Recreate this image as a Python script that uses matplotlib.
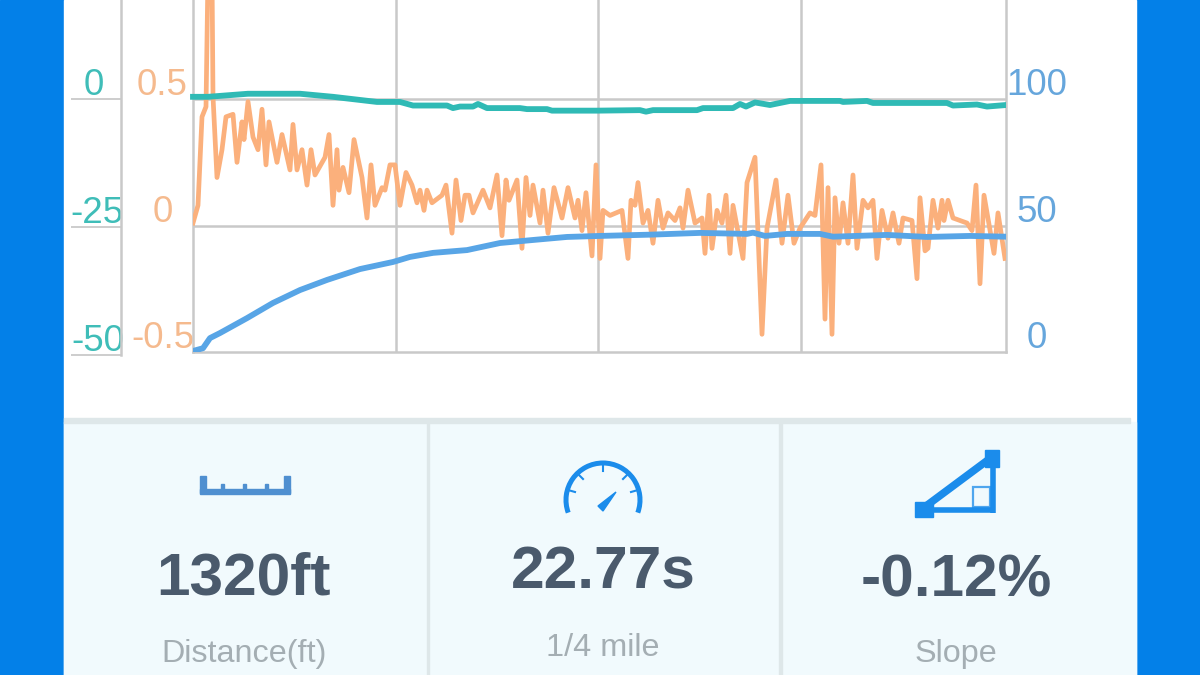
"""
Quarter mile run chart with the stats panel below it
"""
import matplotlib
matplotlib.use('Agg')
import matplotlib.pyplot as plt
from matplotlib.patches import Arc, Polygon, Rectangle
from matplotlib.transforms import ScaledTranslation

plt.rcParams['font.family'] = ['Liberation Sans', 'DejaVu Sans']

# Chart data
accel_x = [0, 5, 9, 13, 15, 19, 20, 24, 29, 33, 40, 44, 49, 51, 55, 60, 65, 69, 73, 76, 84, 89, 97, 100, 104,
           109, 114, 118, 122, 132, 136, 140, 144, 146, 150, 156, 161, 169, 174, 178, 182, 189, 192, 197, 202,
           207, 213, 219, 224, 227, 231, 234, 239, 249, 253, 259, 263, 268, 272, 276, 280, 290, 297, 304, 309,
           313, 316, 324, 329, 333, 337, 340, 347, 350, 355, 361, 369, 375, 382, 385, 389, 393, 399, 403, 407,
           410, 417, 429, 435, 438, 442, 445, 450, 455, 460, 465, 470, 475, 482, 487, 490, 495, 502, 509, 512,
           516, 519, 524, 529, 533, 537, 540, 550, 554, 562, 569, 574, 583, 589, 595, 601, 607, 617, 622, 628,
           632, 635, 639, 642, 646, 650, 655, 660, 664, 670, 675, 680, 684, 689, 695, 700, 706, 710, 719, 724,
           727, 732, 735, 740, 745, 749, 751, 755, 760, 774, 779, 783, 787, 791, 801, 805, 812]
accel = [.01, .08, .43, .47, 1.0, 1.0, .51, .19, .30, .43, .44, .25, .41, .34, .49, .35, .30, .46, .24, .41, .25,
         .36, .22, .40, .22, .30, .16, .30, .20, .27, .36, .08, .30, .14, .23, .13, .34, .19, .03, .24, .08, .15,
         .14, .24, .24, .08, .21, .16, .09, .14, .06, .14, .09, .12, .16, -.03, .18, .02, .12, .12, .05, .14, .07,
         .20, -.04, .18, .10, .18, -.09, .19, .04, .16, .01, .14, -.03, .15, .03, .15, .03, .10, -.02, .13, -.12,
         .24, -.13, .06, .04, .06, -.13, .10, .08, .17, .01, .06, -.07, .10, -.01, .05, .02, .07, -.01, .14, .01,
         .03, -.11, .12, -.09, .06, .01, .12, -.11, .08, -.13, .17, .27, -.43, -.01, .18, -.07, .12, -.07, -.01,
         .05, .04, .24, -.37, .15, -.43, .11, -.07, .09, -.07, .20, -.09, .10, .07, .10, -.13, .06, -.05, .05,
         -.07, .03, .02, -.21, .11, -.10, -.09, .10, -.01, .10, .02, .10, .03, .01, -.02, .16, -.23, .12, -.11,
         .05, -.13]

speed_x = [0, 10, 17, 27, 54, 80, 107, 134, 167, 200, 217, 240, 274, 307, 340, 374, 407, 457, 507, 554,
           560, 572, 594, 627, 640, 694, 734, 777, 813]
speed = [.4, 1.5, 5.5, 7.5, 13.4, 19.4, 24.5, 28.5, 32.8, 35.6, 37.6, 39.2, 40.3, 43.1, 44.3, 45.5, 45.9, 46.4,
         47.1, 46.7, 47.2, 45.9, 46.7, 46.7, 45.6, 46.3, 45.5, 45.9, 45.6]

slope_x = [0, 15, 55, 107, 140, 184, 207, 220, 254, 260, 267, 280, 285, 294, 327, 334, 354, 359, 404, 447, 453,
           460, 504, 510, 540, 547, 553, 562, 577, 597, 647, 650, 674, 680, 754, 760, 784, 794, 813]
slope = [.4, .4, 1, 1, .4, -.6, -.6, -1.3, -1.3, -1.8, -1.5, -1.5, -1, -1.8, -1.8, -2, -2, -2.3, -2.3, -2.2,
         -2.5, -2.2, -2.2, -1.8, -1.8, -1, -1.5, -.7, -1.2, -.4, -.4, -.6, -.4, -.8, -.8, -1.3, -1.1, -1.5, -1.2]

grid_x = [203, 405, 608]
accel_ticks = [-0.5, 0, 0.5]
accel_tick_labels = ['-0.5', '0', '0.5']
speed_ticks = [0, 50, 100]
slope_ticks = [-50, -25, 0]

# Stats panel
stat_values = ['1320ft', '22.77s', '-0.12%']
stat_names = ['Distance(ft)', '1/4 mile', 'Slope']

BLUE_BG = '#0380E8'
GRID = '#C9C9C9'
ACCEL_COLOR = '#FBB07C'
SPEED_COLOR = '#58A5E6'
SLOPE_COLOR = '#2FBAB5'
ICON_COLOR = '#1B8CEB'


def px_rect(x0, y0, x1, y1):
    """Figure fractions for a box given in pixels from the top left"""
    return [x0 / 1200, 1 - y1 / 675, (x1 - x0) / 1200, (y1 - y0) / 675]


def nudge_labels(fig, labels, dx=0, dy=0):
    """Move tick labels by a few pixels (y grows upward)"""
    offset = ScaledTranslation(dx / 100, dy / 100, fig.dpi_scale_trans)
    for label in labels:
        label.set_transform(label.get_transform() + offset)


def draw_background(bg):
    bg.add_patch(Rectangle((0, 0), 1200, 675, color=BLUE_BG))
    bg.add_patch(Rectangle((64, 0), 1072, 675, color='white'))
    bg.add_patch(Rectangle((64, 422), 1072, 253, color='#F1FAFD'))
    bg.add_patch(Rectangle((64, 418), 1066, 5, color='#DEE7E9'))
    for x in [426.5, 779]:
        bg.add_patch(Rectangle((x, 420), 2.5, 255, color='#DEE7E9'))


def draw_icons(bg):
    # ruler
    ruler = '#4F8FD0'
    bg.add_patch(Rectangle((200, 489), 90, 4.5, color=ruler))
    for x, top in [(200, 476), (221, 484), (243, 484), (265, 484), (284, 476)]:
        width = 6 if top == 476 else 3
        bg.add_patch(Rectangle((x, top), width, 493 - top, color=ruler))

    # gauge
    bg.add_patch(Arc((603, 500), 74, 74, theta1=160, theta2=380, color=ICON_COLOR, lw=3.6))
    for x0, y0, x1, y1 in [(603, 464, 603, 471), (578, 474, 583, 479), (628, 474, 623, 479),
                           (568, 490, 575, 492), (638, 490, 631, 492)]:
        bg.plot([x0, x1], [y0, y1], color=ICON_COLOR, lw=1.5)
    bg.add_patch(Polygon([(598, 506), (603, 511), (616, 492)], color=ICON_COLOR))

    # slope triangle
    bg.plot([922, 992], [509, 457], color=ICON_COLOR, lw=5.5, solid_capstyle='butt')
    bg.plot([922, 995], [510, 510], color=ICON_COLOR, lw=4, solid_capstyle='butt')
    bg.plot([993, 993], [457, 513], color=ICON_COLOR, lw=4, solid_capstyle='butt')
    bg.add_patch(Rectangle((915, 502), 18, 15, color=ICON_COLOR))
    bg.add_patch(Rectangle((985, 450), 14, 17, color=ICON_COLOR))
    bg.add_patch(Rectangle((973, 487), 17, 20, fill=False, ec='#4FA6EE', lw=1.6))


def draw_stats(bg):
    for x, y, value in zip([244, 603, 956], [579, 573, 581], stat_values):
        bg.text(x, y, value, ha='center', va='center', fontsize=43.5, fontweight='bold', color='#4A5A6C')
    for x, y, name in zip([244, 603, 956], [654, 648, 654], stat_names):
        bg.text(x, y, name, ha='center', va='center', fontsize=23.3, color='#A4AEB3')


def draw_chart(fig):
    # orange axis holds the grid and the plot frame
    ax = fig.add_axes(px_rect(193, 0, 1006, 352), facecolor='none')
    ax.set_xlim(0, 813)
    ax.set_ylim(-0.5, 0.892)
    ax.plot(accel_x, accel, color=ACCEL_COLOR, lw=3.4, zorder=3, solid_joinstyle='round')
    for x in grid_x:
        ax.axvline(x, color=GRID, lw=1.8, zorder=1)
    for v in [0, 0.5]:
        ax.axhline(v, color=GRID, lw=1.8, zorder=1)
    ax.spines['top'].set_visible(False)
    for side in ['left', 'right', 'bottom']:
        ax.spines[side].set_color(GRID)
        ax.spines[side].set_linewidth(1.8)
    ax.set_xticks([])
    ax.set_yticks(accel_ticks)
    ax.set_yticklabels(accel_tick_labels, ha='center', va='bottom', fontsize=26.5, color='#F5BA8E')
    ax.tick_params(axis='y', length=0, pad=22)
    nudge_labels(fig, ax.get_yticklabels(), dy=-4)

    # speed axis on the right
    ax_speed = ax.twinx()
    ax_speed.set_ylim(0, 139.2)
    ax_speed.plot(speed_x, speed, color=SPEED_COLOR, lw=4.2, zorder=3, solid_joinstyle='round')
    ax_speed.set_yticks(speed_ticks)
    ax_speed.set_yticklabels([str(v) for v in speed_ticks], ha='center', va='bottom', fontsize=26.5,
                             color='#66A6DC')
    ax_speed.tick_params(axis='y', length=0, pad=22)
    nudge_labels(fig, ax_speed.get_yticklabels(), dy=-4)
    for spine in ax_speed.spines.values():
        spine.set_visible(False)

    # slope axis sits further left, with long tick lines
    ax_slope = fig.add_axes(px_rect(121, 0, 1006, 355), facecolor='none')
    ax_slope.set_xlim(-72, 813)
    ax_slope.set_ylim(-50, 19.3)
    ax_slope.plot(slope_x, slope, color=SLOPE_COLOR, lw=4.2, zorder=3, solid_joinstyle='round')
    ax_slope.set_xticks([])
    ax_slope.set_yticks(slope_ticks)
    ax_slope.set_yticklabels([str(v) for v in slope_ticks], ha='center', va='bottom', fontsize=26.5,
                             color='#3FBDB8')
    ax_slope.tick_params(axis='y', length=36, width=1.3, color=GRID, pad=-19)
    nudge_labels(fig, ax_slope.get_yticklabels(), dy=-4)
    nudge_labels(fig, ax_slope.get_yticklabels()[2:], dx=-4)
    for side in ['top', 'right', 'bottom']:
        ax_slope.spines[side].set_visible(False)
    ax_slope.spines['left'].set_color(GRID)
    ax_slope.spines['left'].set_linewidth(1.8)


def main():
    fig = plt.figure(figsize=(12, 6.75), dpi=100)
    bg = fig.add_axes([0, 0, 1, 1])
    bg.set_xlim(0, 1200)
    bg.set_ylim(675, 0)
    bg.axis('off')

    draw_background(bg)
    draw_icons(bg)
    draw_stats(bg)
    draw_chart(fig)

    fig.savefig('out.png', dpi=100)
    plt.close(fig)


if __name__ == "__main__":
    main()
